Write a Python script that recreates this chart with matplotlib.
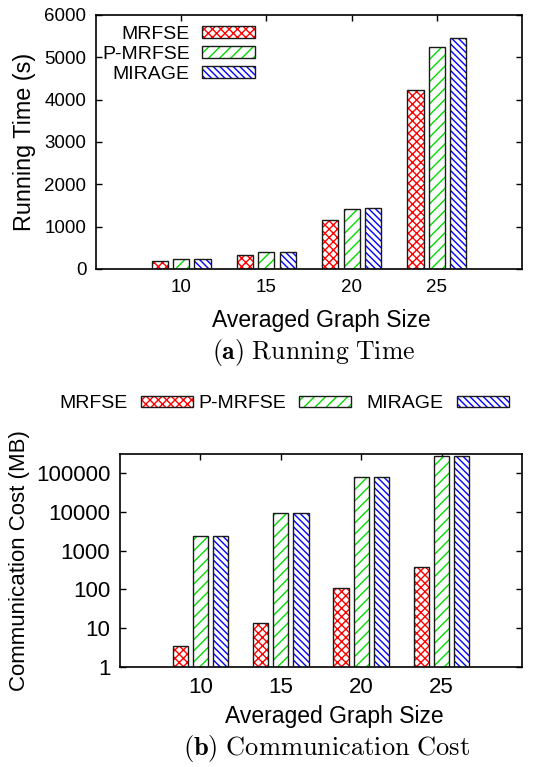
import matplotlib
matplotlib.use('Agg')
import matplotlib.pyplot as plt
from matplotlib.patches import Patch
from matplotlib.legend_handler import HandlerTuple
from matplotlib.ticker import FixedLocator, FixedFormatter, LogLocator, NullFormatter
import numpy as np

plt.rcParams['font.family'] = ['Liberation Sans', 'DejaVu Sans']
plt.rcParams['mathtext.fontset'] = 'cm'
plt.rcParams['hatch.linewidth'] = 1.0

sizes = ['10', '15', '20', '25']
methods = ['MRFSE', 'P-MRFSE', 'MIRAGE']

# running time (s)
time_mrfse = [190, 330, 1160, 4240]
time_pmrfse = [230, 400, 1410, 5240]
time_mirage = [235, 405, 1440, 5450]

# communication cost (MB)
comm_mrfse = [3.4, 14, 112, 375]
comm_pmrfse = [2450, 9600, 79000, 270000]
comm_mirage = [2450, 9600, 79000, 270000]

hatch_colors = ['#ff0000', '#00dd00', '#0000ff']
hatches = ['xxxx', '///', '\\' * 5]
edge = '#1a1a1a'
width = 0.19
offsets = [-0.25, 0.0, 0.25]


def draw_bars(ax, series):
    x = np.arange(len(sizes))
    for vals, off, hc, h in zip(series, offsets, hatch_colors, hatches):
        ax.bar(x + off, vals, width, color='white', edgecolor=hc, hatch=h, linewidth=0, zorder=2)
        ax.bar(x + off, vals, width, fill=False, edgecolor=edge, linewidth=1.0, zorder=3)
    ax.set_xlim(-1, len(sizes))
    ax.set_xticks(x)
    ax.set_xticklabels(sizes)
    for s in ax.spines.values():
        s.set_linewidth(1.2)
    ax.tick_params(direction='in', top=True, right=True, length=4, width=1, pad=7)


def handle(i):
    return (Patch(facecolor='white', edgecolor=hatch_colors[i], hatch=hatches[i], linewidth=0),
            Patch(fill=False, edgecolor=edge, linewidth=1.0))


fig = plt.figure(figsize=(5.4, 7.67), dpi=100)

# (a) running time
ax1 = fig.add_axes([96 / 540, 498 / 767, 426 / 540, 254 / 767])
draw_bars(ax1, [time_mrfse, time_pmrfse, time_mirage])
ax1.set_ylim(0, 6000)
ax1.set_yticks(range(0, 6001, 1000))
ax1.tick_params(labelsize=13.5)
ax1.set_ylabel('Running Time (s)', fontsize=16.8, labelpad=6)
ax1.legend([handle(i) for i in range(3)], methods, handler_map={tuple: HandlerTuple(ndivide=1)},
           loc='upper right', bbox_to_anchor=(255 / 540, 1 - 26 / 767),
           bbox_transform=fig.transFigure, markerfirst=False, frameon=False,
           fontsize=14, handlelength=2.75, handleheight=0.55, labelspacing=0.15,
           handletextpad=0.6, borderpad=0, borderaxespad=0)
fig.text(321 / 540, 1 - 320 / 767, 'Averaged Graph Size', fontsize=16.5, ha='center', va='center')
fig.text(314 / 540, 1 - 352 / 767, r'$\mathbf{(a)}\ \mathrm{Running\ Time}$', fontsize=18.5,
         ha='center', va='center')

# (b) communication cost
ax2 = fig.add_axes([120 / 540, 100 / 767, 402 / 540, 213 / 767])
draw_bars(ax2, [comm_mrfse, comm_pmrfse, comm_mirage])
ax2.set_yscale('log')
ax2.set_ylim(1, 310000)
yt = [1, 10, 100, 1000, 10000, 100000]
ax2.yaxis.set_major_locator(FixedLocator(yt))
ax2.yaxis.set_major_formatter(FixedFormatter([str(v) for v in yt]))
ax2.yaxis.set_minor_locator(LogLocator(base=10, subs=np.arange(2, 10) * 1.0))
ax2.yaxis.set_minor_formatter(NullFormatter())
ax2.tick_params(which='minor', direction='in', right=True, length=2, width=0.8)
ax2.tick_params(labelsize=16)
ax2.set_ylabel('Communication Cost (MB)', fontsize=16, labelpad=4)

# one legend entry per column, patch right ends placed along the top
for i, right in enumerate([193, 351, 509]):
    fig.legend([handle(i)], [methods[i]], handler_map={tuple: HandlerTuple(ndivide=1)},
               loc='center right', bbox_to_anchor=(right / 540, 1 - 404 / 767),
               markerfirst=False, frameon=False, fontsize=14, handlelength=2.7,
               handleheight=0.55, handletextpad=0.65, borderpad=0, borderaxespad=0)

fig.text(334 / 540, 1 - 717 / 767, 'Averaged Graph Size', fontsize=16.5, ha='center', va='center')
fig.text(327 / 540, 1 - 748 / 767, r'$\mathbf{(b)}\ \mathrm{Communication\ Cost}$', fontsize=19,
         ha='center', va='center')

fig.savefig('out.png', dpi=100)
